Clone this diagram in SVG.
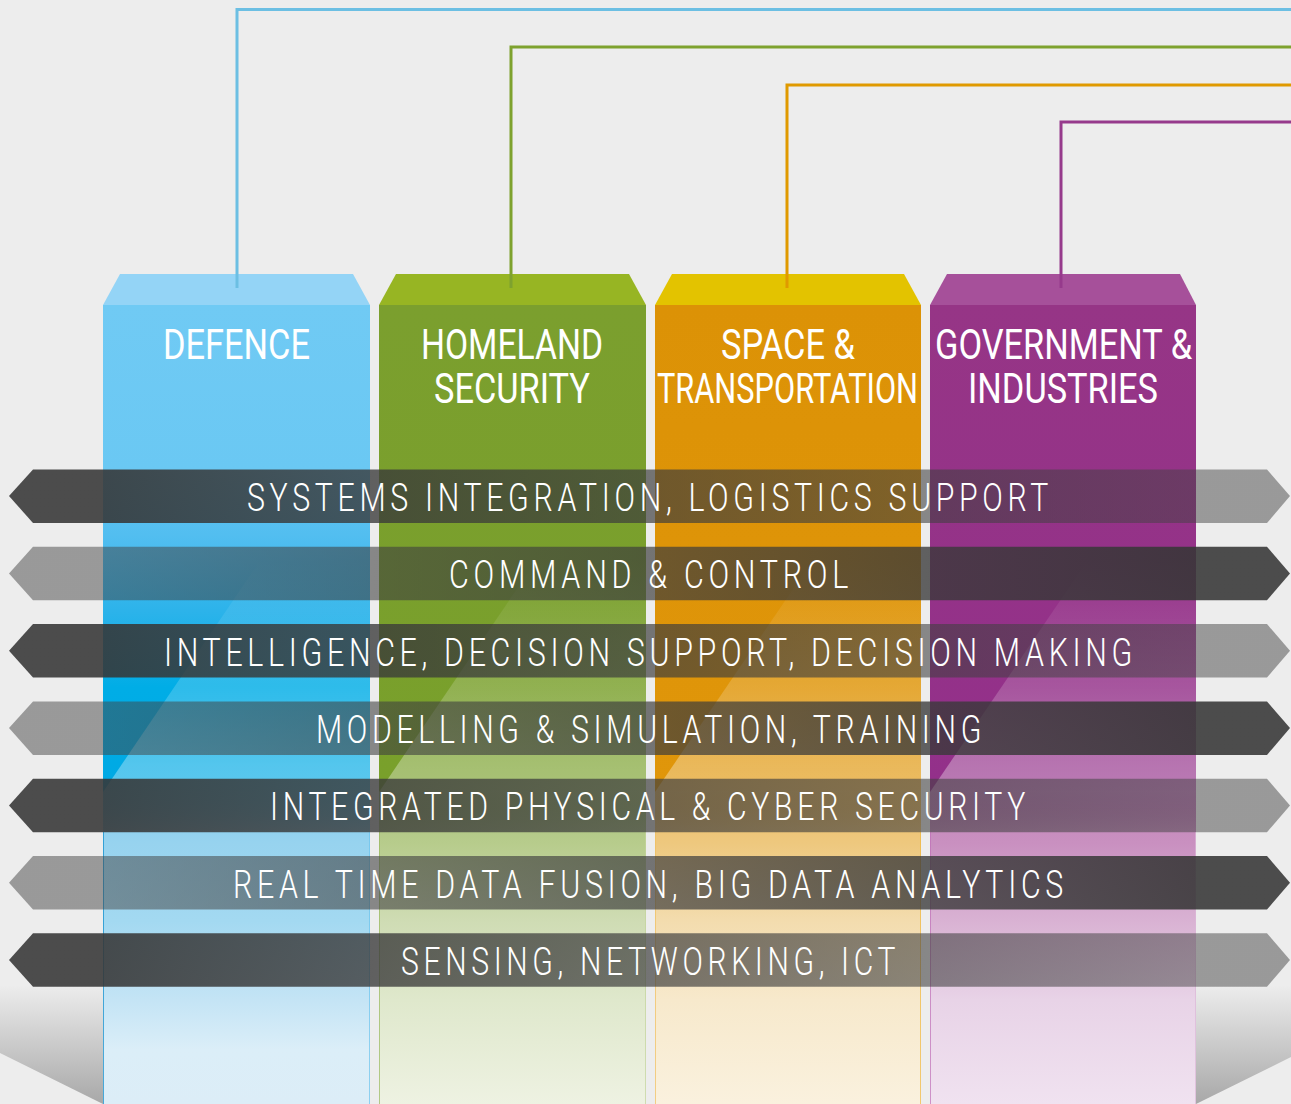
<svg xmlns="http://www.w3.org/2000/svg" width="1291" height="1104" viewBox="0 0 1291 1104">
<style>
.ht{font-family:Roboto,"Liberation Sans",sans-serif;font-weight:400;font-size:42px;fill:#fff}
.bt{font-family:Roboto,"Liberation Sans",sans-serif;font-weight:300;font-size:39px;fill:#fff;letter-spacing:6px}
.conn{fill:none;stroke-width:3}
.edge{stroke-width:1;opacity:0.7}
</style>
<defs>
<linearGradient id="gDef" gradientUnits="userSpaceOnUse" x1="0" y1="305" x2="0" y2="1104">
<stop offset="0" stop-color="#70caf4"/><stop offset="0.2065" stop-color="#6ac8f3"/><stop offset="0.2879" stop-color="#52bef0"/><stop offset="0.383" stop-color="#2cb3ea"/><stop offset="0.4793" stop-color="#00ade6"/><stop offset="0.607" stop-color="#00a9e4"/><stop offset="0.6608" stop-color="#93d2ef"/><stop offset="0.6733" stop-color="#97d3ef"/><stop offset="0.771" stop-color="#a3d9f1"/><stop offset="0.8698" stop-color="#c4e4f5"/><stop offset="0.9324" stop-color="#dbeef8"/><stop offset="1" stop-color="#dcedf7"/>
</linearGradient>
<linearGradient id="gHom" gradientUnits="userSpaceOnUse" x1="0" y1="305" x2="0" y2="1104">
<stop offset="0" stop-color="#7b9f2e"/><stop offset="0.607" stop-color="#79a02b"/><stop offset="0.6608" stop-color="#b4ca89"/><stop offset="0.6733" stop-color="#b7cc8c"/><stop offset="0.771" stop-color="#cfdcb4"/><stop offset="0.8698" stop-color="#dfe8cc"/><stop offset="1" stop-color="#eef2e2"/>
</linearGradient>
<linearGradient id="gSpa" gradientUnits="userSpaceOnUse" x1="0" y1="305" x2="0" y2="1104">
<stop offset="0" stop-color="#dc9206"/><stop offset="0.607" stop-color="#e0960a"/><stop offset="0.6608" stop-color="#eec67a"/><stop offset="0.6733" stop-color="#eec87e"/><stop offset="0.771" stop-color="#f3dcae"/><stop offset="0.8698" stop-color="#f7e9cc"/><stop offset="1" stop-color="#faf1de"/>
</linearGradient>
<linearGradient id="gGov" gradientUnits="userSpaceOnUse" x1="0" y1="305" x2="0" y2="1104">
<stop offset="0" stop-color="#963586"/><stop offset="0.607" stop-color="#93308a"/><stop offset="0.6608" stop-color="#c88ebf"/><stop offset="0.6733" stop-color="#c990c0"/><stop offset="0.771" stop-color="#d9b2d3"/><stop offset="0.8698" stop-color="#e8d3e7"/><stop offset="1" stop-color="#f0e2f0"/>
</linearGradient>
<linearGradient id="shine" gradientUnits="userSpaceOnUse" x1="0" y1="560" x2="0" y2="832">
<stop offset="0" stop-color="#fff" stop-opacity="0"/><stop offset="0.1875" stop-color="#fff" stop-opacity="0.08"/><stop offset="0.47" stop-color="#fff" stop-opacity="0.18"/><stop offset="0.7537" stop-color="#fff" stop-opacity="0.33"/><stop offset="0.85" stop-color="#fff" stop-opacity="0.36"/><stop offset="1" stop-color="#fff" stop-opacity="0"/>
</linearGradient>
<linearGradient id="bandDL" gradientUnits="userSpaceOnUse" x1="103" y1="0" x2="1196" y2="0">
<stop offset="0" stop-color="#363636" stop-opacity="0.88"/><stop offset="1" stop-color="#424242" stop-opacity="0.49"/>
</linearGradient>
<linearGradient id="bandLD" gradientUnits="userSpaceOnUse" x1="103" y1="0" x2="1196" y2="0">
<stop offset="0" stop-color="#424242" stop-opacity="0.49"/><stop offset="1" stop-color="#363636" stop-opacity="0.88"/>
</linearGradient>
<linearGradient id="floor" gradientUnits="userSpaceOnUse" x1="0" y1="985" x2="0" y2="1104">
<stop offset="0" stop-color="#ededed"/><stop offset="1" stop-color="#a8a8a8"/>
</linearGradient>
</defs>
<rect width="1291" height="1104" fill="#ededed"/>
<g id="floor-shadows">
<polygon points="0,985 103,985 103,1104 0,1053" fill="url(#floor)"/>
<polygon points="1196,985 1291,985 1291,1057 1196,1104" fill="url(#floor)"/>
</g>
<g id="defence">
<rect x="103" y="305" width="267" height="799" fill="url(#gDef)"/>
<polygon points="103,792 370,399 370,832 103,832" fill="url(#shine)"/>
<polygon points="103,305 120,274 353,274 370,305" fill="#94d4f6"/>
<line class="edge" x1="103.5" y1="832" x2="103.5" y2="1104" stroke="#0a8ccc"/>
<line class="edge" x1="369.5" y1="832" x2="369.5" y2="1104" stroke="#6cc4ee"/>
<text class="ht" x="163" y="359" textLength="147" lengthAdjust="spacingAndGlyphs">DEFENCE</text>
</g>
<g id="homeland-security">
<rect x="379" y="305" width="267" height="799" fill="url(#gHom)"/>
<polygon points="379,792 646,399 646,832 379,832" fill="url(#shine)"/>
<polygon points="379,305 396,274 629,274 646,305" fill="#97b523"/>
<line class="edge" x1="379.5" y1="832" x2="379.5" y2="1104" stroke="#9ab860"/>
<line class="edge" x1="645.5" y1="832" x2="645.5" y2="1104" stroke="#c4d49c"/>
<text class="ht" x="421" y="359" textLength="182" lengthAdjust="spacingAndGlyphs">HOMELAND</text>
<text class="ht" x="434" y="403" textLength="156" lengthAdjust="spacingAndGlyphs">SECURITY</text>
</g>
<g id="space-transportation">
<rect x="655" y="305" width="266" height="799" fill="url(#gSpa)"/>
<polygon points="655,792 921,401 921,832 655,832" fill="url(#shine)"/>
<polygon points="655,305 672,274 904,274 921,305" fill="#e3c300"/>
<line class="edge" x1="655.5" y1="832" x2="655.5" y2="1104" stroke="#f0c060"/>
<line class="edge" x1="920.5" y1="832" x2="920.5" y2="1104" stroke="#f0b840"/>
<text class="ht" x="721" y="359" textLength="134" lengthAdjust="spacingAndGlyphs">SPACE &amp;</text>
<text class="ht" x="657" y="403" textLength="261" lengthAdjust="spacingAndGlyphs">TRANSPORTATION</text>
</g>
<g id="government-industries">
<rect x="930" y="305" width="266" height="799" fill="url(#gGov)"/>
<polygon points="930,792 1196,401 1196,832 930,832" fill="url(#shine)"/>
<polygon points="930,305 947,274 1180,274 1196,305" fill="#a6509a"/>
<line class="edge" x1="930.5" y1="832" x2="930.5" y2="1104" stroke="#c070b8"/>
<line class="edge" x1="1195.5" y1="832" x2="1195.5" y2="1104" stroke="#dcb8d8"/>
<text class="ht" x="935" y="359" textLength="257" lengthAdjust="spacingAndGlyphs">GOVERNMENT &amp;</text>
<text class="ht" x="968" y="403" textLength="190" lengthAdjust="spacingAndGlyphs">INDUSTRIES</text>
</g>
<g id="connectors">
<path class="conn" d="M237 288 V9.5 H1291" stroke="#6cbfe3"/>
<path class="conn" d="M511 288 V47 H1291" stroke="#7ea22e"/>
<path class="conn" d="M787 288 V85 H1291" stroke="#e09a00"/>
<path class="conn" d="M1061 288 V122 H1291" stroke="#963a8c"/>
</g>
<g id="band-1">
<path d="M9 496 L33 469.5 H1267 L1290 496 L1267 523 H33 Z" fill="url(#bandDL)"/>
<text class="bt" x="247" y="511" textLength="806" lengthAdjust="spacingAndGlyphs">SYSTEMS INTEGRATION, LOGISTICS SUPPORT</text>
</g>
<g id="band-2">
<path d="M9 573.5 L33 546.8 H1267 L1290 573.5 L1267 600.3 H33 Z" fill="url(#bandLD)"/>
<text class="bt" x="449" y="588" textLength="404" lengthAdjust="spacingAndGlyphs">COMMAND &amp; CONTROL</text>
</g>
<g id="band-3">
<path d="M9 650.8 L33 624.1 H1267 L1290 650.8 L1267 677.6 H33 Z" fill="url(#bandDL)"/>
<text class="bt" x="164" y="665.5" textLength="973" lengthAdjust="spacingAndGlyphs">INTELLIGENCE, DECISION SUPPORT, DECISION MAKING</text>
</g>
<g id="band-4">
<path d="M9 728.1 L33 701.4 H1267 L1290 728.1 L1267 754.9 H33 Z" fill="url(#bandLD)"/>
<text class="bt" x="316" y="743" textLength="670" lengthAdjust="spacingAndGlyphs">MODELLING &amp; SIMULATION, TRAINING</text>
</g>
<g id="band-5">
<path d="M9 805.4 L33 778.7 H1267 L1290 805.4 L1267 832.2 H33 Z" fill="url(#bandDL)"/>
<text class="bt" x="270" y="820" textLength="760" lengthAdjust="spacingAndGlyphs">INTEGRATED PHYSICAL &amp; CYBER SECURITY</text>
</g>
<g id="band-6">
<path d="M9 882.7 L33 856 H1267 L1290 882.7 L1267 909.5 H33 Z" fill="url(#bandLD)"/>
<text class="bt" x="233" y="897.5" textLength="835" lengthAdjust="spacingAndGlyphs">REAL TIME DATA FUSION, BIG DATA ANALYTICS</text>
</g>
<g id="band-7">
<path d="M9 960 L33 933.3 H1267 L1290 960 L1267 986.8 H33 Z" fill="url(#bandDL)"/>
<text class="bt" x="401" y="975" textLength="499" lengthAdjust="spacingAndGlyphs">SENSING, NETWORKING, ICT</text>
</g>
</svg>
